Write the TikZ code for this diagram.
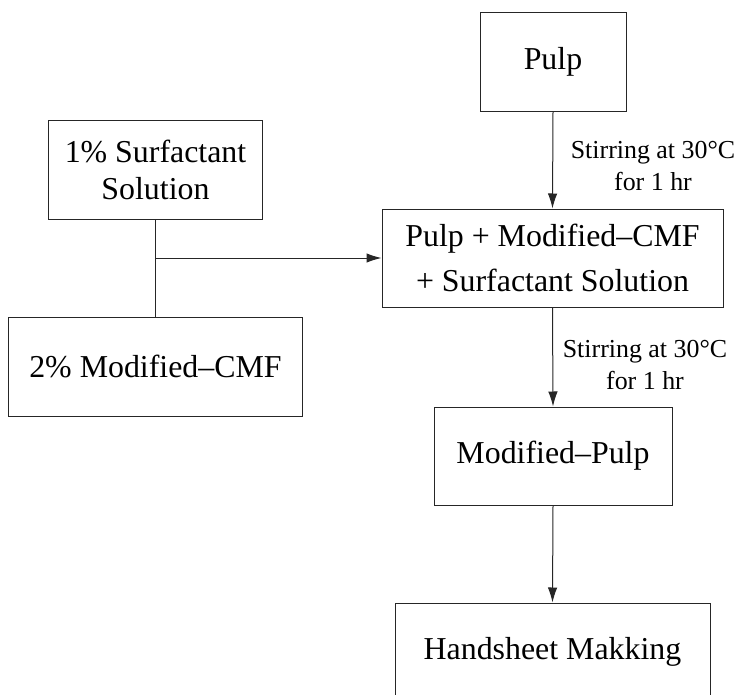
\documentclass[tikz,border=0pt]{standalone}
\usepackage{fontspec}
\setmainfont{Liberation Serif}
\usetikzlibrary{arrows.meta}
\begin{document}
\begin{tikzpicture}[x=1bp,y=-1bp,
  box/.style={draw=black!85,line width=1bp,inner sep=0pt,align=center,
    font=\fontsize{32}{37}\selectfont},
  lbl/.style={align=center,inner sep=0pt,font=\fontsize{26}{33}\selectfont},
  arr/.style={draw=black!85,line width=1bp,-{Latex[length=15bp,width=9.5bp]}},
  ln/.style={draw=black!85,line width=1bp}]
\useasboundingbox (0,0) rectangle (738,695);
\clip (0,0) rectangle (738,695);
\node[box,minimum width=213bp,minimum height=98bp] (surf) at (155.5,170) {1\% Surfactant\\Solution};
\node[box,minimum width=293bp,minimum height=99bp] (cmf) at (155.5,366.5) {2\% Modified–CMF};
\node[box,minimum width=146bp,minimum height=98bp] (pulp) at (553,62) {Pulp};
\node[box,minimum width=341bp,minimum height=98bp,font=\fontsize{32}{45}\selectfont] (mix) at (552.5,258) {Pulp + Modified–CMF\\+ Surfactant Solution};
\node[box,minimum width=238bp,minimum height=98bp] (mpulp) at (553,456) {Modified–Pulp};
\node[box,minimum width=315bp,minimum height=98bp] (hand) at (552.5,652) {Handsheet Makking};
\coordinate (j) at (surf.south |- mix.west);
\draw[ln] (surf.south) -- (cmf.north);
\draw[arr] (j) -- (mix.west);
\draw[arr] (pulp.south) -- (mix.north);
\draw[arr] (mix.south) -- (mpulp.north);
\draw[arr] (mpulp.south) -- (hand.north);
\node[lbl] (l1) at (653,166) {Stirring at 30°C\\for 1 hr};
\node[lbl] (l2) at (645,365) {Stirring at 30°C\\for 1 hr};
\end{tikzpicture}
\end{document}
